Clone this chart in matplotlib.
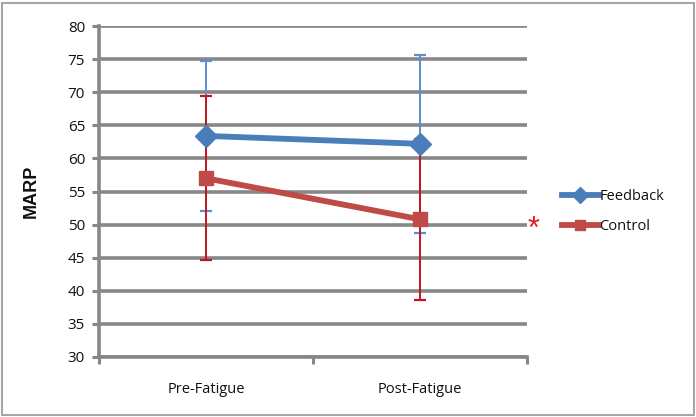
import matplotlib
matplotlib.use("Agg")
import matplotlib.pyplot as plt
from matplotlib.patches import Rectangle

categories = ["Pre-Fatigue", "Post-Fatigue"]
feedback = [63.4, 62.2]
feedback_err = [11.3, 13.4]
control = [57.0, 50.8]
control_err = [12.4, 12.2]
yticks = [30, 35, 40, 45, 50, 55, 60, 65, 70, 75, 80]

plt.rcParams['font.family'] = ['Open Sans', 'DejaVu Sans']

fig = plt.figure(figsize=(6.96, 4.17), dpi=100)
ax = fig.add_axes([99/696, 1-357/417, 428/696, 331/417])

x = [0, 1]
blue = "#4A7EBB"
red = "#BE4B48"
gray = "#878787"
txt = "#111111"

ax.set_xlim(-0.5, 1.5)
ax.set_ylim(30, 80)
ax.set_yticks(yticks)
ax.set_xticks([-0.5, 0.5, 1.5])
ax.set_xticklabels([])
for xi, c in zip(x, categories):
    ax.text(xi, -0.075, c, transform=ax.get_xaxis_transform(), ha='center', va='top', fontsize=10.5, color=txt)

ax.yaxis.grid(True, color=gray, linewidth=2.6, zorder=0)
ax.set_axisbelow(True)
for s in ['top', 'right']:
    ax.spines[s].set_visible(False)
ax.spines['left'].set_color(gray)
ax.spines['left'].set_linewidth(2.6)
ax.spines['bottom'].set_color(gray)
ax.spines['bottom'].set_linewidth(2.6)
ax.tick_params(axis='both', colors=gray, width=2.2, length=5, direction='out')
ax.tick_params(axis='y', labelcolor=txt, labelsize=11, pad=5)

ax.errorbar(x, feedback, yerr=feedback_err, fmt='none', ecolor="#5B8FD0", elinewidth=1.4, capsize=4.5, capthick=1.6, zorder=3)
ax.errorbar(x, control, yerr=control_err, fmt='none', ecolor="#C0171C", elinewidth=1.4, capsize=4.5, capthick=1.6, zorder=4)
ax.plot(x, control, color=red, linewidth=4.2, marker='s', markersize=10, zorder=5, label='Control')
ax.plot(x, feedback, color=blue, linewidth=4.2, marker='D', markersize=11, zorder=6, label='Feedback')

ax.set_ylabel("MARP", fontsize=13, fontweight='bold', family=['Liberation Sans', 'DejaVu Sans'], labelpad=20, color=txt)

h, l = ax.get_legend_handles_labels()
leg = fig.legend([h[1], h[0]], [l[1], l[0]], loc='center left', bbox_to_anchor=(549/696, 1-211.5/417),
                 frameon=False, fontsize=10.5, handlelength=2.5, handletextpad=0.05, labelspacing=1.05,
                 markerscale=0.75)
for t in leg.get_texts():
    t.set_color(txt)

fig.text(534/696, 1-230/417, "*", color="#E02020", fontsize=22, ha='center', va='center',
         family=['Liberation Sans', 'DejaVu Sans'])

fig.patches.append(Rectangle((2/696, 2/417), 692/696, 412/417, transform=fig.transFigure,
                             fill=False, edgecolor="#A6A6A6", linewidth=1.5))

fig.savefig("out.png", dpi=100)
